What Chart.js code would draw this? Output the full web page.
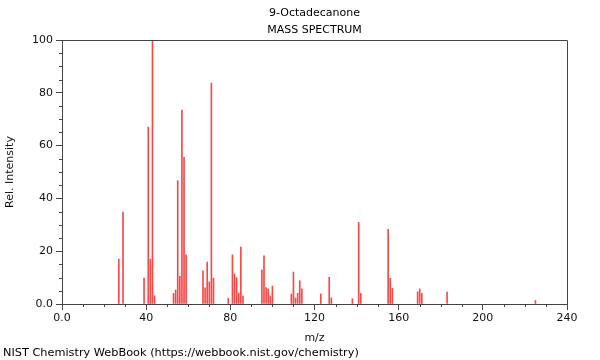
<!DOCTYPE html>
<html>
<head>
<meta charset="utf-8">
<script src="https://cdn.jsdelivr.net/npm/chart.js@4/dist/chart.umd.min.js"></script>
<style>
html,body{margin:0;padding:0;background:#fff;}
#c{display:block;}
</style>
</head>
<body>
<canvas id="c" width="600" height="360"></canvas>
<script>
const chartTitle = '9-Octadecanone';
const chartSubtitle = 'MASS SPECTRUM';
const footerText = 'NIST Chemistry WebBook (https://webbook.nist.gov/chemistry)';
const xAxisTitle = 'm/z';
const yAxisTitle = 'Rel. Intensity';

const mz = [27,29,39,41,42,43,44,53,54,55,56,57,58,59,67,68,69,70,71,72,79,81,82,83,84,85,86,95,96,97,98,99,100,109,110,111,112,113,114,123,127,128,138,141,142,155,156,157,169,170,171,183,225];
const intensity = [17.0,34.8,9.8,67.0,17.0,100,3.1,4.0,5.3,46.7,10.5,73.5,55.6,18.6,12.6,6.1,15.9,8.4,83.7,9.8,2.2,18.6,11.4,10.0,4.1,21.6,3.0,12.9,18.2,6.2,5.7,3.0,6.8,3.8,12.1,2.3,4.1,8.8,5.7,3.8,10.1,2.3,2.0,30.9,4.0,28.3,9.7,5.9,4.6,5.7,4.0,4.5,1.3];

const xTickLabels = ['0.0','40','80','120','160','200','240'];
const yTickLabels = ['0.0','20','40','60','80','100'];

const FONT = 'DejaVu Sans';
const AXIS = '#444';

const points = mz.map((m, i) => ({x: m, y: intensity[i]}));

const extras = {
  id: 'extras',
  afterDraw(chart) {
    const ctx = chart.ctx;
    const a = chart.chartArea;
    const xs = chart.scales.x, ys = chart.scales.y;
    ctx.save();
    ctx.strokeStyle = AXIS;
    ctx.lineWidth = 1;
    ctx.beginPath();
    ctx.moveTo(a.left, a.top + 0.5);
    ctx.lineTo(a.right + 0.5, a.top + 0.5);
    ctx.lineTo(a.right + 0.5, a.bottom);
    ctx.stroke();
    ctx.beginPath();
    for (let v = 0; v <= 240; v += 10) {
      if (v % 40 === 0) continue;
      const px = Math.round(xs.getPixelForValue(v)) + 0.5;
      ctx.moveTo(px, a.bottom);
      ctx.lineTo(px, a.bottom + 3);
    }
    for (let v = 0; v <= 100; v += 5) {
      if (v % 20 === 0) continue;
      const py = Math.round(ys.getPixelForValue(v)) + 0.5;
      ctx.moveTo(a.left, py);
      ctx.lineTo(a.left - 3, py);
    }
    ctx.stroke();
    ctx.fillStyle = '#000';
    ctx.font = '11px "' + FONT + '"';
    ctx.textAlign = 'center';
    ctx.textBaseline = 'middle';
    const cx = (a.left + a.right) / 2;
    ctx.fillText(chartTitle, cx, 13);
    ctx.fillText(chartSubtitle, cx, 30);
    ctx.textAlign = 'left';
    ctx.font = '11.3px "' + FONT + '"';
    ctx.fillText(footerText, 3, 353);
    ctx.restore();
  }
};

new Chart(document.getElementById('c'), {
  type: 'bar',
  data: {
    datasets: [{
      data: points,
      backgroundColor: 'rgba(245,0,0,0.72)',
      borderWidth: 0,
      barThickness: 1,
      grouped: false
    }]
  },
  options: {
    responsive: false,
    animation: false,
    devicePixelRatio: 1,
    layout: {padding: {left: 0, right: 33, top: 40, bottom: 0}},
    plugins: {legend: {display: false}, tooltip: {enabled: false}, title: {display: false}},
    scales: {
      x: {
        type: 'linear',
        min: 0, max: 240,
        offset: false,
        afterFit(s) { s.height = 56; },
        grid: {offset: false, drawOnChartArea: false, drawTicks: true, tickLength: 6, color: AXIS},
        border: {display: true, color: AXIS},
        ticks: {
          stepSize: 40, autoSkip: false, maxRotation: 0, padding: 2,
          color: '#111', font: {family: FONT, size: 11},
          callback: (v, i) => xTickLabels[i]
        },
        title: {display: true, text: xAxisTitle, color: '#111', font: {family: FONT, size: 11}, padding: {top: 0, bottom: 15}}
      },
      y: {
        min: 0, max: 100,
        afterFit(s) { s.width = 62; },
        grid: {drawOnChartArea: false, drawTicks: true, tickLength: 6, color: AXIS},
        border: {display: true, color: AXIS},
        ticks: {
          stepSize: 20, autoSkip: false, padding: 3,
          color: '#111', font: {family: FONT, size: 11},
          callback: (v, i) => yTickLabels[i]
        },
        title: {display: true, text: yAxisTitle, color: '#111', font: {family: FONT, size: 11}, padding: {top: 4, bottom: 0}}
      }
    }
  },
  plugins: [extras]
});
</script>
</body>
</html>
